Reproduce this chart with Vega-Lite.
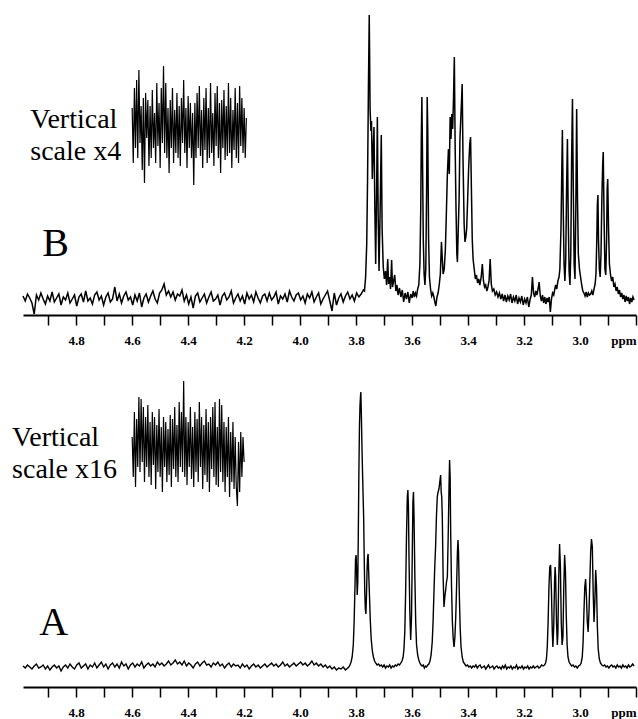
{
"$schema": "https://vega.github.io/schema/vega-lite/v6.json",
"padding": {"left": 12, "top": 0, "right": 1, "bottom": 0},
"background": "white",
"spacing": 22,
"config": {"view": {"stroke": null}},
"datasets": {
"bs": [{"p":4.990,"v":3},{"p":4.982,"v":-2},{"p":4.974,"v":5},{"p":4.966,"v":1},{"p":4.958,"v":-4},{"p":4.950,"v":-15},{"p":4.942,"v":4},{"p":4.934,"v":-1},{"p":4.926,"v":6},{"p":4.918,"v":0},{"p":4.910,"v":-5},{"p":4.902,"v":3},{"p":4.894,"v":-2},{"p":4.886,"v":7},{"p":4.878,"v":-3},{"p":4.870,"v":1},{"p":4.862,"v":5},{"p":4.854,"v":-6},{"p":4.846,"v":2},{"p":4.838,"v":-1},{"p":4.830,"v":6},{"p":4.822,"v":-4},{"p":4.814,"v":0},{"p":4.806,"v":4},{"p":4.798,"v":-7},{"p":4.790,"v":2},{"p":4.782,"v":5},{"p":4.774,"v":-3},{"p":4.766,"v":8},{"p":4.758,"v":-2},{"p":4.750,"v":1},{"p":4.742,"v":-5},{"p":4.734,"v":4},{"p":4.726,"v":7},{"p":4.718,"v":-1},{"p":4.710,"v":3},{"p":4.702,"v":-6},{"p":4.694,"v":2},{"p":4.686,"v":6},{"p":4.678,"v":-3},{"p":4.670,"v":0},{"p":4.662,"v":12},{"p":4.654,"v":-2},{"p":4.646,"v":5},{"p":4.638,"v":-4},{"p":4.630,"v":3},{"p":4.622,"v":7},{"p":4.614,"v":-1},{"p":4.606,"v":2},{"p":4.598,"v":-6},{"p":4.590,"v":4},{"p":4.582,"v":-2},{"p":4.574,"v":6},{"p":4.566,"v":-8},{"p":4.558,"v":1},{"p":4.550,"v":5},{"p":4.542,"v":-3},{"p":4.534,"v":3},{"p":4.526,"v":8},{"p":4.518,"v":0},{"p":4.510,"v":-4},{"p":4.502,"v":6},{"p":4.494,"v":9},{"p":4.486,"v":15},{"p":4.478,"v":4},{"p":4.470,"v":8},{"p":4.462,"v":2},{"p":4.454,"v":7},{"p":4.446,"v":-1},{"p":4.438,"v":5},{"p":4.430,"v":3},{"p":4.422,"v":9},{"p":4.414,"v":-2},{"p":4.406,"v":4},{"p":4.398,"v":-5},{"p":4.390,"v":2},{"p":4.382,"v":-9},{"p":4.374,"v":3},{"p":4.366,"v":6},{"p":4.358,"v":-3},{"p":4.350,"v":1},{"p":4.342,"v":5},{"p":4.334,"v":-4},{"p":4.326,"v":2},{"p":4.318,"v":7},{"p":4.310,"v":-2},{"p":4.302,"v":0},{"p":4.294,"v":4},{"p":4.286,"v":-6},{"p":4.278,"v":3},{"p":4.270,"v":6},{"p":4.262,"v":-1},{"p":4.254,"v":2},{"p":4.246,"v":8},{"p":4.238,"v":-4},{"p":4.230,"v":1},{"p":4.222,"v":5},{"p":4.214,"v":-2},{"p":4.206,"v":3},{"p":4.198,"v":-5},{"p":4.190,"v":6},{"p":4.182,"v":0},{"p":4.174,"v":4},{"p":4.166,"v":-3},{"p":4.158,"v":7},{"p":4.150,"v":1},{"p":4.142,"v":-4},{"p":4.134,"v":3},{"p":4.126,"v":5},{"p":4.118,"v":-2},{"p":4.110,"v":6},{"p":4.102,"v":-1},{"p":4.094,"v":2},{"p":4.086,"v":7},{"p":4.078,"v":-5},{"p":4.070,"v":3},{"p":4.062,"v":0},{"p":4.054,"v":5},{"p":4.046,"v":-3},{"p":4.038,"v":8},{"p":4.030,"v":2},{"p":4.022,"v":-2},{"p":4.014,"v":4},{"p":4.006,"v":6},{"p":3.998,"v":-1},{"p":3.990,"v":3},{"p":3.982,"v":-4},{"p":3.974,"v":5},{"p":3.966,"v":1},{"p":3.958,"v":7},{"p":3.950,"v":-3},{"p":3.942,"v":2},{"p":3.934,"v":6},{"p":3.926,"v":-5},{"p":3.918,"v":0},{"p":3.910,"v":4},{"p":3.902,"v":8},{"p":3.894,"v":-2},{"p":3.886,"v":-12},{"p":3.878,"v":6},{"p":3.870,"v":-6},{"p":3.862,"v":1},{"p":3.854,"v":5},{"p":3.846,"v":-3},{"p":3.838,"v":3},{"p":3.830,"v":7},{"p":3.822,"v":0},{"p":3.814,"v":4},{"p":3.806,"v":-2},{"p":3.798,"v":6},{"p":3.790,"v":2},{"p":3.782,"v":5},{"p":3.774,"v":9},
{"p":3.770,"v":8},{"p":3.766,"v":22},{"p":3.762,"v":55},{"p":3.759,"v":120},{"p":3.756,"v":210},{"p":3.753,"v":284},{"p":3.750,"v":190},{"p":3.747,"v":168},{"p":3.745,"v":178},{"p":3.742,"v":120},{"p":3.739,"v":150},{"p":3.736,"v":172},{"p":3.733,"v":90},{"p":3.730,"v":35},{"p":3.727,"v":100},{"p":3.724,"v":182},{"p":3.721,"v":80},{"p":3.718,"v":28},{"p":3.714,"v":90},{"p":3.710,"v":164},{"p":3.707,"v":70},{"p":3.703,"v":32},{"p":3.699,"v":20},{"p":3.695,"v":28},{"p":3.691,"v":14},{"p":3.687,"v":40},{"p":3.684,"v":15},{"p":3.680,"v":22},{"p":3.677,"v":10},{"p":3.673,"v":39},{"p":3.670,"v":12},{"p":3.666,"v":18},{"p":3.662,"v":24},{"p":3.658,"v":8},{"p":3.654,"v":14},{"p":3.650,"v":4},{"p":3.645,"v":11},{"p":3.640,"v":2},{"p":3.635,"v":9},{"p":3.630,"v":-3},{"p":3.625,"v":6},{"p":3.620,"v":0},{"p":3.615,"v":7},{"p":3.610,"v":-4},{"p":3.605,"v":5},{"p":3.600,"v":1},{"p":3.596,"v":8},{"p":3.592,"v":2},{"p":3.588,"v":6},{"p":3.584,"v":3},{"p":3.580,"v":10},{"p":3.576,"v":14},{"p":3.572,"v":35},{"p":3.569,"v":90},{"p":3.567,"v":160},{"p":3.565,"v":202},{"p":3.563,"v":150},{"p":3.560,"v":60},{"p":3.557,"v":25},{"p":3.554,"v":14},{"p":3.551,"v":30},{"p":3.548,"v":110},{"p":3.546,"v":202},{"p":3.544,"v":170},{"p":3.541,"v":60},{"p":3.538,"v":22},{"p":3.534,"v":10},{"p":3.530,"v":3},{"p":3.526,"v":6},{"p":3.522,"v":2},{"p":3.518,"v":-4},{"p":3.515,"v":-7},{"p":3.511,"v":2},{"p":3.507,"v":6},{"p":3.503,"v":14},{"p":3.499,"v":25},{"p":3.495,"v":57},{"p":3.492,"v":40},{"p":3.489,"v":25},{"p":3.485,"v":30},{"p":3.481,"v":50},{"p":3.478,"v":80},{"p":3.474,"v":124},{"p":3.470,"v":150},{"p":3.467,"v":125},{"p":3.464,"v":182},{"p":3.461,"v":160},{"p":3.458,"v":185},{"p":3.455,"v":170},{"p":3.452,"v":200},{"p":3.449,"v":242},{"p":3.446,"v":150},{"p":3.443,"v":90},{"p":3.440,"v":45},{"p":3.438,"v":37},{"p":3.435,"v":70},{"p":3.432,"v":100},{"p":3.429,"v":160},{"p":3.426,"v":180},{"p":3.423,"v":200},{"p":3.421,"v":215},{"p":3.418,"v":140},{"p":3.414,"v":75},{"p":3.411,"v":57},{"p":3.408,"v":62},{"p":3.405,"v":70},{"p":3.402,"v":95},{"p":3.398,"v":130},{"p":3.394,"v":155},{"p":3.391,"v":162},{"p":3.388,"v":110},{"p":3.385,"v":60},{"p":3.382,"v":40},{"p":3.378,"v":30},{"p":3.374,"v":20},{"p":3.370,"v":24},{"p":3.366,"v":16},{"p":3.362,"v":20},{"p":3.358,"v":14},{"p":3.353,"v":22},{"p":3.349,"v":35},{"p":3.345,"v":18},{"p":3.341,"v":12},{"p":3.337,"v":14},{"p":3.333,"v":8},{"p":3.329,"v":12},{"p":3.325,"v":18},{"p":3.321,"v":40},{"p":3.317,"v":15},{"p":3.313,"v":8},{"p":3.308,"v":10},{"p":3.303,"v":4},{"p":3.298,"v":7},{"p":3.293,"v":2},{"p":3.288,"v":6},{"p":3.283,"v":0},{"p":3.278,"v":5},{"p":3.273,"v":-2},{"p":3.268,"v":4},{"p":3.263,"v":-3},{"p":3.258,"v":3},{"p":3.253,"v":-1},{"p":3.248,"v":5},{"p":3.243,"v":-4},{"p":3.238,"v":2},{"p":3.233,"v":-2},{"p":3.228,"v":4},{"p":3.223,"v":-5},{"p":3.218,"v":1},{"p":3.213,"v":-3},{"p":3.208,"v":3},{"p":3.203,"v":-6},{"p":3.198,"v":0},{"p":3.193,"v":-4},{"p":3.188,"v":2},{"p":3.183,"v":-8},{"p":3.178,"v":0},{"p":3.174,"v":4},{"p":3.170,"v":22},{"p":3.166,"v":6},{"p":3.162,"v":2},{"p":3.158,"v":8},{"p":3.154,"v":4},{"p":3.150,"v":10},{"p":3.146,"v":17},{"p":3.142,"v":3},{"p":3.138,"v":-2},{"p":3.134,"v":4},{"p":3.130,"v":-4},{"p":3.126,"v":2},{"p":3.122,"v":-5},{"p":3.118,"v":1},{"p":3.114,"v":-3},{"p":3.110,"v":2},{"p":3.106,"v":-13},{"p":3.102,"v":0},{"p":3.098,"v":6},{"p":3.094,"v":4},{"p":3.090,"v":10},{"p":3.087,"v":14},{"p":3.083,"v":10},{"p":3.079,"v":18},{"p":3.075,"v":22},{"p":3.072,"v":30},{"p":3.068,"v":70},{"p":3.065,"v":130},{"p":3.063,"v":169},{"p":3.060,"v":90},{"p":3.057,"v":35},{"p":3.054,"v":18},{"p":3.051,"v":40},{"p":3.048,"v":110},{"p":3.045,"v":160},{"p":3.042,"v":80},{"p":3.039,"v":28},{"p":3.036,"v":14},{"p":3.033,"v":45},{"p":3.030,"v":140},{"p":3.027,"v":200},{"p":3.024,"v":110},{"p":3.021,"v":35},{"p":3.018,"v":20},{"p":3.015,"v":90},{"p":3.012,"v":190},{"p":3.009,"v":100},{"p":3.006,"v":45},{"p":3.002,"v":30},{"p":2.998,"v":22},{"p":2.994,"v":14},{"p":2.990,"v":8},{"p":2.986,"v":6},{"p":2.982,"v":3},{"p":2.978,"v":7},{"p":2.974,"v":2},{"p":2.970,"v":6},{"p":2.966,"v":4},{"p":2.962,"v":5},{"p":2.958,"v":8},{"p":2.954,"v":4},{"p":2.950,"v":10},{"p":2.946,"v":15},{"p":2.943,"v":25},{"p":2.940,"v":60},{"p":2.938,"v":95},{"p":2.936,"v":104},{"p":2.934,"v":60},{"p":2.931,"v":30},{"p":2.928,"v":22},{"p":2.925,"v":45},{"p":2.922,"v":100},{"p":2.919,"v":135},{"p":2.917,"v":147},{"p":2.914,"v":80},{"p":2.911,"v":30},{"p":2.908,"v":24},{"p":2.905,"v":60},{"p":2.903,"v":110},{"p":2.901,"v":120},{"p":2.898,"v":70},{"p":2.895,"v":35},{"p":2.891,"v":24},{"p":2.887,"v":18},{"p":2.883,"v":22},{"p":2.879,"v":12},{"p":2.875,"v":15},{"p":2.871,"v":8},{"p":2.867,"v":12},{"p":2.863,"v":5},{"p":2.859,"v":9},{"p":2.855,"v":2},{"p":2.851,"v":6},{"p":2.847,"v":0},{"p":2.843,"v":4},{"p":2.839,"v":-3},{"p":2.835,"v":3},{"p":2.831,"v":-2},{"p":2.827,"v":2},{"p":2.823,"v":-5},{"p":2.819,"v":1},{"p":2.815,"v":-3},{"p":2.811,"v":2},{"p":2.807,"v":-1}],
"bi": [{"p":4.600,"v":191},{"p":4.596,"v":136},{"p":4.592,"v":211},{"p":4.588,"v":151},{"p":4.584,"v":219},{"p":4.580,"v":141},{"p":4.576,"v":229},{"p":4.572,"v":156},{"p":4.568,"v":193},{"p":4.564,"v":129},{"p":4.560,"v":201},{"p":4.556,"v":116},{"p":4.552,"v":206},{"p":4.548,"v":161},{"p":4.544,"v":199},{"p":4.540,"v":133},{"p":4.536,"v":193},{"p":4.532,"v":141},{"p":4.528,"v":209},{"p":4.524,"v":151},{"p":4.520,"v":186},{"p":4.516,"v":136},{"p":4.512,"v":216},{"p":4.508,"v":153},{"p":4.504,"v":196},{"p":4.500,"v":131},{"p":4.496,"v":211},{"p":4.492,"v":156},{"p":4.488,"v":233},{"p":4.484,"v":146},{"p":4.480,"v":216},{"p":4.476,"v":141},{"p":4.472,"v":191},{"p":4.468,"v":126},{"p":4.464,"v":199},{"p":4.460,"v":151},{"p":4.456,"v":211},{"p":4.452,"v":136},{"p":4.448,"v":189},{"p":4.444,"v":146},{"p":4.440,"v":206},{"p":4.436,"v":141},{"p":4.432,"v":193},{"p":4.428,"v":133},{"p":4.424,"v":201},{"p":4.420,"v":156},{"p":4.416,"v":219},{"p":4.412,"v":146},{"p":4.408,"v":191},{"p":4.404,"v":131},{"p":4.400,"v":203},{"p":4.396,"v":151},{"p":4.392,"v":196},{"p":4.388,"v":141},{"p":4.384,"v":186},{"p":4.380,"v":114},{"p":4.376,"v":196},{"p":4.372,"v":141},{"p":4.368,"v":206},{"p":4.364,"v":151},{"p":4.360,"v":213},{"p":4.356,"v":143},{"p":4.352,"v":189},{"p":4.348,"v":131},{"p":4.344,"v":201},{"p":4.340,"v":149},{"p":4.336,"v":211},{"p":4.332,"v":136},{"p":4.328,"v":191},{"p":4.324,"v":141},{"p":4.320,"v":216},{"p":4.316,"v":146},{"p":4.312,"v":186},{"p":4.308,"v":133},{"p":4.304,"v":206},{"p":4.300,"v":153},{"p":4.296,"v":213},{"p":4.292,"v":141},{"p":4.288,"v":196},{"p":4.284,"v":126},{"p":4.280,"v":199},{"p":4.276,"v":151},{"p":4.272,"v":209},{"p":4.268,"v":139},{"p":4.264,"v":193},{"p":4.260,"v":143},{"p":4.256,"v":216},{"p":4.252,"v":146},{"p":4.248,"v":201},{"p":4.244,"v":131},{"p":4.240,"v":189},{"p":4.236,"v":149},{"p":4.232,"v":211},{"p":4.228,"v":141},{"p":4.224,"v":196},{"p":4.220,"v":136},{"p":4.216,"v":213},{"p":4.212,"v":153},{"p":4.208,"v":201},{"p":4.204,"v":146},{"p":4.200,"v":191},{"p":4.196,"v":141},{"p":4.192,"v":181}],
"as": [{"p":4.990,"v":1},{"p":4.982,"v":-1},{"p":4.974,"v":2},{"p":4.966,"v":0},{"p":4.958,"v":-2},{"p":4.950,"v":1},{"p":4.942,"v":3},{"p":4.934,"v":-1},{"p":4.926,"v":0},{"p":4.918,"v":2},{"p":4.910,"v":-2},{"p":4.902,"v":1},{"p":4.894,"v":-3},{"p":4.886,"v":0},{"p":4.878,"v":2},{"p":4.870,"v":-1},{"p":4.862,"v":1},{"p":4.854,"v":-4},{"p":4.846,"v":0},{"p":4.838,"v":2},{"p":4.830,"v":-1},{"p":4.822,"v":3},{"p":4.814,"v":0},{"p":4.806,"v":-2},{"p":4.798,"v":2},{"p":4.790,"v":4},{"p":4.782,"v":-1},{"p":4.774,"v":1},{"p":4.766,"v":3},{"p":4.758,"v":-2},{"p":4.750,"v":2},{"p":4.742,"v":0},{"p":4.734,"v":4},{"p":4.726,"v":-1},{"p":4.718,"v":2},{"p":4.710,"v":5},{"p":4.702,"v":0},{"p":4.694,"v":3},{"p":4.686,"v":-2},{"p":4.678,"v":2},{"p":4.670,"v":4},{"p":4.662,"v":0},{"p":4.654,"v":3},{"p":4.646,"v":-1},{"p":4.638,"v":5},{"p":4.630,"v":1},{"p":4.622,"v":3},{"p":4.614,"v":-2},{"p":4.606,"v":2},{"p":4.598,"v":4},{"p":4.590,"v":0},{"p":4.582,"v":3},{"p":4.574,"v":1},{"p":4.566,"v":5},{"p":4.558,"v":-1},{"p":4.550,"v":2},{"p":4.542,"v":4},{"p":4.534,"v":1},{"p":4.526,"v":3},{"p":4.518,"v":0},{"p":4.510,"v":5},{"p":4.502,"v":2},{"p":4.494,"v":4},{"p":4.486,"v":1},{"p":4.478,"v":3},{"p":4.470,"v":6},{"p":4.462,"v":2},{"p":4.454,"v":4},{"p":4.446,"v":7},{"p":4.438,"v":3},{"p":4.430,"v":5},{"p":4.422,"v":2},{"p":4.414,"v":6},{"p":4.406,"v":1},{"p":4.398,"v":4},{"p":4.390,"v":2},{"p":4.382,"v":-1},{"p":4.374,"v":3},{"p":4.366,"v":5},{"p":4.358,"v":1},{"p":4.350,"v":4},{"p":4.342,"v":6},{"p":4.334,"v":2},{"p":4.326,"v":3},{"p":4.318,"v":0},{"p":4.310,"v":4},{"p":4.302,"v":2},{"p":4.294,"v":5},{"p":4.286,"v":1},{"p":4.278,"v":3},{"p":4.270,"v":-1},{"p":4.262,"v":2},{"p":4.254,"v":4},{"p":4.246,"v":0},{"p":4.238,"v":3},{"p":4.230,"v":1},{"p":4.222,"v":2},{"p":4.214,"v":-1},{"p":4.206,"v":3},{"p":4.198,"v":0},{"p":4.190,"v":2},{"p":4.182,"v":-2},{"p":4.174,"v":1},{"p":4.166,"v":3},{"p":4.158,"v":0},{"p":4.150,"v":2},{"p":4.142,"v":-1},{"p":4.134,"v":1},{"p":4.126,"v":3},{"p":4.118,"v":0},{"p":4.110,"v":2},{"p":4.102,"v":4},{"p":4.094,"v":1},{"p":4.086,"v":3},{"p":4.078,"v":0},{"p":4.070,"v":2},{"p":4.062,"v":5},{"p":4.054,"v":1},{"p":4.046,"v":3},{"p":4.038,"v":0},{"p":4.030,"v":2},{"p":4.022,"v":4},{"p":4.014,"v":1},{"p":4.006,"v":3},{"p":3.998,"v":5},{"p":3.990,"v":2},{"p":3.982,"v":4},{"p":3.974,"v":1},{"p":3.966,"v":3},{"p":3.958,"v":6},{"p":3.950,"v":2},{"p":3.942,"v":4},{"p":3.934,"v":1},{"p":3.926,"v":3},{"p":3.918,"v":0},{"p":3.910,"v":2},{"p":3.902,"v":-1},{"p":3.894,"v":1},{"p":3.886,"v":-2},{"p":3.878,"v":0},{"p":3.870,"v":-3},{"p":3.862,"v":-1},{"p":3.854,"v":-2},{"p":3.846,"v":0},{"p":3.838,"v":-3},{"p":3.830,"v":-1},
{"p":3.826,"v":0},{"p":3.822,"v":2},{"p":3.818,"v":5},{"p":3.814,"v":10},{"p":3.810,"v":22},{"p":3.807,"v":45},{"p":3.804,"v":80},{"p":3.802,"v":108},{"p":3.800,"v":112},{"p":3.798,"v":95},{"p":3.796,"v":72},{"p":3.794,"v":85},{"p":3.792,"v":135},{"p":3.790,"v":195},{"p":3.788,"v":240},{"p":3.786,"v":262},{"p":3.784,"v":272},{"p":3.783,"v":275},{"p":3.781,"v":250},{"p":3.779,"v":220},{"p":3.777,"v":195},{"p":3.775,"v":172},{"p":3.773,"v":150},{"p":3.771,"v":110},{"p":3.769,"v":75},{"p":3.767,"v":58},{"p":3.765,"v":53},{"p":3.763,"v":70},{"p":3.761,"v":95},{"p":3.759,"v":110},{"p":3.757,"v":113},{"p":3.755,"v":95},{"p":3.752,"v":70},{"p":3.749,"v":45},{"p":3.746,"v":28},{"p":3.742,"v":16},{"p":3.738,"v":10},{"p":3.734,"v":6},{"p":3.730,"v":4},{"p":3.725,"v":2},{"p":3.720,"v":3},{"p":3.715,"v":1},{"p":3.710,"v":2},{"p":3.705,"v":0},{"p":3.700,"v":2},{"p":3.695,"v":-1},{"p":3.690,"v":1},{"p":3.685,"v":0},{"p":3.680,"v":2},{"p":3.675,"v":-1},{"p":3.670,"v":1},{"p":3.665,"v":0},{"p":3.660,"v":2},{"p":3.655,"v":1},{"p":3.650,"v":3},{"p":3.645,"v":2},{"p":3.640,"v":4},{"p":3.636,"v":6},{"p":3.632,"v":10},{"p":3.629,"v":18},{"p":3.626,"v":35},{"p":3.623,"v":75},{"p":3.620,"v":130},{"p":3.617,"v":170},{"p":3.615,"v":177},{"p":3.613,"v":160},{"p":3.611,"v":110},{"p":3.608,"v":55},{"p":3.605,"v":27},{"p":3.602,"v":50},{"p":3.599,"v":120},{"p":3.597,"v":165},{"p":3.595,"v":175},{"p":3.593,"v":150},{"p":3.590,"v":90},{"p":3.587,"v":45},{"p":3.584,"v":22},{"p":3.580,"v":12},{"p":3.576,"v":7},{"p":3.572,"v":4},{"p":3.568,"v":2},{"p":3.564,"v":1},{"p":3.560,"v":2},{"p":3.556,"v":-1},{"p":3.552,"v":1},{"p":3.548,"v":0},{"p":3.544,"v":2},{"p":3.540,"v":3},{"p":3.536,"v":6},{"p":3.532,"v":12},{"p":3.528,"v":25},{"p":3.525,"v":45},{"p":3.522,"v":73},{"p":3.519,"v":100},{"p":3.516,"v":120},{"p":3.513,"v":150},{"p":3.510,"v":170},{"p":3.507,"v":175},{"p":3.504,"v":178},{"p":3.501,"v":185},{"p":3.498,"v":192},{"p":3.496,"v":175},{"p":3.494,"v":170},{"p":3.492,"v":150},{"p":3.489,"v":90},{"p":3.486,"v":60},{"p":3.483,"v":70},{"p":3.480,"v":77},{"p":3.477,"v":85},{"p":3.474,"v":90},{"p":3.471,"v":130},{"p":3.468,"v":180},{"p":3.466,"v":207},{"p":3.464,"v":190},{"p":3.462,"v":133},{"p":3.459,"v":80},{"p":3.456,"v":45},{"p":3.453,"v":28},{"p":3.450,"v":20},{"p":3.447,"v":30},{"p":3.444,"v":50},{"p":3.441,"v":80},{"p":3.438,"v":115},{"p":3.436,"v":127},{"p":3.434,"v":115},{"p":3.431,"v":70},{"p":3.428,"v":38},{"p":3.425,"v":20},{"p":3.421,"v":10},{"p":3.417,"v":5},{"p":3.412,"v":3},{"p":3.407,"v":1},{"p":3.402,"v":2},{"p":3.397,"v":0},{"p":3.392,"v":1},{"p":3.387,"v":-1},{"p":3.382,"v":1},{"p":3.377,"v":0},{"p":3.372,"v":2},{"p":3.367,"v":-1},{"p":3.362,"v":1},{"p":3.357,"v":2},{"p":3.352,"v":-1},{"p":3.347,"v":0},{"p":3.342,"v":1},{"p":3.337,"v":-2},{"p":3.332,"v":0},{"p":3.327,"v":2},{"p":3.322,"v":-1},{"p":3.317,"v":0},{"p":3.312,"v":1},{"p":3.307,"v":-2},{"p":3.302,"v":0},{"p":3.297,"v":1},{"p":3.292,"v":-1},{"p":3.287,"v":0},{"p":3.282,"v":-2},{"p":3.277,"v":1},{"p":3.272,"v":-1},{"p":3.267,"v":2},{"p":3.262,"v":-2},{"p":3.257,"v":0},{"p":3.252,"v":-1},{"p":3.247,"v":1},{"p":3.242,"v":-2},{"p":3.237,"v":0},{"p":3.232,"v":-1},{"p":3.227,"v":2},{"p":3.222,"v":-2},{"p":3.217,"v":0},{"p":3.212,"v":-1},{"p":3.207,"v":1},{"p":3.202,"v":-2},{"p":3.197,"v":0},{"p":3.192,"v":-1},{"p":3.187,"v":1},{"p":3.182,"v":-2},{"p":3.177,"v":0},{"p":3.172,"v":-1},{"p":3.167,"v":1},{"p":3.162,"v":-1},{"p":3.157,"v":0},{"p":3.152,"v":1},{"p":3.147,"v":-1},{"p":3.142,"v":0},{"p":3.137,"v":2},{"p":3.132,"v":1},{"p":3.127,"v":2},{"p":3.123,"v":4},{"p":3.120,"v":8},{"p":3.117,"v":20},{"p":3.114,"v":45},{"p":3.111,"v":80},{"p":3.108,"v":100},{"p":3.105,"v":102},{"p":3.102,"v":75},{"p":3.099,"v":35},{"p":3.097,"v":20},{"p":3.094,"v":40},{"p":3.091,"v":85},{"p":3.089,"v":100},{"p":3.087,"v":90},{"p":3.084,"v":45},{"p":3.081,"v":22},{"p":3.079,"v":35},{"p":3.076,"v":90},{"p":3.073,"v":123},{"p":3.070,"v":100},{"p":3.067,"v":45},{"p":3.064,"v":22},{"p":3.061,"v":30},{"p":3.058,"v":80},{"p":3.055,"v":112},{"p":3.052,"v":95},{"p":3.049,"v":50},{"p":3.046,"v":22},{"p":3.043,"v":10},{"p":3.039,"v":5},{"p":3.035,"v":3},{"p":3.030,"v":1},{"p":3.025,"v":2},{"p":3.020,"v":0},{"p":3.015,"v":1},{"p":3.010,"v":-1},{"p":3.005,"v":1},{"p":3.000,"v":2},{"p":2.996,"v":4},{"p":2.992,"v":10},{"p":2.989,"v":25},{"p":2.986,"v":55},{"p":2.983,"v":80},{"p":2.980,"v":88},{"p":2.977,"v":70},{"p":2.974,"v":45},{"p":2.971,"v":35},{"p":2.968,"v":55},{"p":2.965,"v":85},{"p":2.962,"v":115},{"p":2.959,"v":128},{"p":2.956,"v":120},{"p":2.953,"v":75},{"p":2.950,"v":45},{"p":2.947,"v":65},{"p":2.944,"v":97},{"p":2.941,"v":80},{"p":2.938,"v":40},{"p":2.935,"v":18},{"p":2.931,"v":8},{"p":2.927,"v":4},{"p":2.922,"v":2},{"p":2.917,"v":1},{"p":2.912,"v":2},{"p":2.907,"v":0},{"p":2.902,"v":1},{"p":2.897,"v":-1},{"p":2.892,"v":1},{"p":2.887,"v":2},{"p":2.882,"v":0},{"p":2.877,"v":1},{"p":2.872,"v":-1},{"p":2.867,"v":2},{"p":2.862,"v":0},{"p":2.857,"v":1},{"p":2.852,"v":-1},{"p":2.847,"v":2},{"p":2.842,"v":0},{"p":2.837,"v":1},{"p":2.832,"v":-1},{"p":2.827,"v":2},{"p":2.822,"v":0},{"p":2.817,"v":1},{"p":2.812,"v":3},{"p":2.807,"v":1}],
"ai": [{"p":4.600,"v":230},{"p":4.596,"v":190},{"p":4.592,"v":255},{"p":4.588,"v":180},{"p":4.584,"v":248},{"p":4.580,"v":200},{"p":4.576,"v":270},{"p":4.572,"v":195},{"p":4.568,"v":268},{"p":4.564,"v":205},{"p":4.560,"v":260},{"p":4.556,"v":185},{"p":4.552,"v":250},{"p":4.548,"v":200},{"p":4.544,"v":262},{"p":4.540,"v":190},{"p":4.536,"v":245},{"p":4.532,"v":182},{"p":4.528,"v":255},{"p":4.524,"v":202},{"p":4.520,"v":250},{"p":4.516,"v":178},{"p":4.512,"v":242},{"p":4.508,"v":195},{"p":4.504,"v":258},{"p":4.500,"v":190},{"p":4.496,"v":240},{"p":4.492,"v":175},{"p":4.488,"v":250},{"p":4.484,"v":200},{"p":4.480,"v":245},{"p":4.476,"v":185},{"p":4.472,"v":238},{"p":4.468,"v":192},{"p":4.464,"v":252},{"p":4.460,"v":180},{"p":4.456,"v":248},{"p":4.452,"v":198},{"p":4.448,"v":260},{"p":4.444,"v":190},{"p":4.440,"v":242},{"p":4.436,"v":185},{"p":4.432,"v":265},{"p":4.428,"v":200},{"p":4.424,"v":255},{"p":4.420,"v":195},{"p":4.416,"v":286},{"p":4.412,"v":190},{"p":4.408,"v":250},{"p":4.404,"v":182},{"p":4.400,"v":245},{"p":4.396,"v":200},{"p":4.392,"v":260},{"p":4.388,"v":188},{"p":4.384,"v":240},{"p":4.380,"v":180},{"p":4.376,"v":255},{"p":4.372,"v":195},{"p":4.368,"v":248},{"p":4.364,"v":185},{"p":4.360,"v":265},{"p":4.356,"v":200},{"p":4.352,"v":250},{"p":4.348,"v":178},{"p":4.344,"v":242},{"p":4.340,"v":192},{"p":4.336,"v":258},{"p":4.332,"v":185},{"p":4.328,"v":245},{"p":4.324,"v":175},{"p":4.320,"v":250},{"p":4.316,"v":198},{"p":4.312,"v":260},{"p":4.308,"v":190},{"p":4.304,"v":265},{"p":4.300,"v":182},{"p":4.296,"v":240},{"p":4.292,"v":180},{"p":4.288,"v":268},{"p":4.284,"v":195},{"p":4.280,"v":262},{"p":4.276,"v":185},{"p":4.272,"v":245},{"p":4.268,"v":175},{"p":4.264,"v":240},{"p":4.260,"v":190},{"p":4.256,"v":250},{"p":4.252,"v":170},{"p":4.248,"v":235},{"p":4.244,"v":185},{"p":4.240,"v":245},{"p":4.236,"v":178},{"p":4.232,"v":230},{"p":4.228,"v":180},{"p":4.224,"v":161},{"p":4.220,"v":225},{"p":4.216,"v":175},{"p":4.212,"v":235},{"p":4.208,"v":190},{"p":4.204,"v":230},{"p":4.200,"v":205}]
},
"vconcat": [
{
"width": 613, "height": 315,
"resolve": {"axis": {"x": "independent", "y": "independent"}},
"layer": [
{"data": {"name": "bs"}, "mark": {"type": "line", "color": "black", "strokeWidth": 1.5},
 "encoding": {
  "x": {"field": "p", "type": "quantitative", "scale": {"domain": [4.99, 2.8], "nice": false, "zero": false},
   "axis": {"orient": "bottom", "values": [4.9,4.8,4.7,4.6,4.5,4.4,4.3,4.2,4.1,4.0,3.9,3.8,3.7,3.6,3.5,3.4,3.3,3.2,3.1,3.0,2.9,2.845,2.8],
    "labelExpr": "datum.value == 2.845 ? 'ppm' : ((datum.value > 2.85 && round(datum.value*10) % 2 == 0) ? format(datum.value, '.1f') : '')",
    "tickOpacity": {"condition": {"test": "datum.value == 2.845", "value": 0}, "value": 1},
    "title": null, "grid": false, "domainColor": "black", "domainWidth": 2, "tickColor": "black", "tickWidth": 1.5, "tickSize": 10,
    "labelPadding": 9, "labelFont": "Liberation Serif", "labelFontWeight": "bold", "labelFontSize": 13, "labelColor": "black", "labelOverlap": false, "labelFlush": false}},
  "y": {"field": "v", "type": "quantitative", "scale": {"domain": [-16, 299], "nice": false, "zero": false}, "axis": null}}},
{"data": {"name": "bi"}, "mark": {"type": "line", "color": "black", "strokeWidth": 1.2},
 "encoding": {
  "x": {"field": "p", "type": "quantitative", "axis": null},
  "y": {"field": "v", "type": "quantitative", "axis": null}}},
{"data": {"values": [{}]}, "mark": {"type": "text", "text": ["Vertical", "scale x4"], "align": "left", "baseline": "alphabetic", "font": "Liberation Serif", "fontSize": 28, "lineHeight": 32, "color": "black"},
 "encoding": {
  "x": {"datum": 4.964, "type": "quantitative", "axis": null},
  "y": {"datum": 171, "type": "quantitative", "axis": null}}},
{"data": {"values": [{}]}, "mark": {"type": "text", "text": "B", "align": "left", "baseline": "alphabetic", "font": "Liberation Serif", "fontSize": 40, "color": "black"},
 "encoding": {
  "x": {"datum": 4.921, "type": "quantitative", "axis": null},
  "y": {"datum": 43, "type": "quantitative", "axis": null}}}
]
},
{
"width": 613, "height": 318,
"resolve": {"axis": {"x": "independent", "y": "independent"}},
"layer": [
{"data": {"name": "as"}, "mark": {"type": "line", "color": "black", "strokeWidth": 1.4},
 "encoding": {
  "x": {"field": "p", "type": "quantitative", "scale": {"domain": [4.99, 2.8], "nice": false, "zero": false},
   "axis": {"orient": "bottom", "values": [4.9,4.8,4.7,4.6,4.5,4.4,4.3,4.2,4.1,4.0,3.9,3.8,3.7,3.6,3.5,3.4,3.3,3.2,3.1,3.0,2.9,2.845,2.8],
    "labelExpr": "datum.value == 2.845 ? 'ppm' : ((datum.value > 2.85 && round(datum.value*10) % 2 == 0) ? format(datum.value, '.1f') : '')",
    "tickOpacity": {"condition": {"test": "datum.value == 2.845", "value": 0}, "value": 1},
    "title": null, "grid": false, "domainColor": "black", "domainWidth": 2, "tickColor": "black", "tickWidth": 1.5, "tickSize": 10,
    "labelPadding": 9, "labelFont": "Liberation Serif", "labelFontWeight": "bold", "labelFontSize": 13, "labelColor": "black", "labelOverlap": false, "labelFlush": false}},
  "y": {"field": "v", "type": "quantitative", "scale": {"domain": [-20, 298], "nice": false, "zero": false}, "axis": null}}},
{"data": {"name": "ai"}, "mark": {"type": "line", "color": "black", "strokeWidth": 1.2},
 "encoding": {
  "x": {"field": "p", "type": "quantitative", "axis": null},
  "y": {"field": "v", "type": "quantitative", "axis": null}}},
{"data": {"values": [{}]}, "mark": {"type": "text", "text": ["Vertical", "scale x16"], "align": "left", "baseline": "alphabetic", "font": "Liberation Serif", "fontSize": 28, "lineHeight": 32, "color": "black"},
 "encoding": {
  "x": {"datum": 5.029, "type": "quantitative", "axis": null},
  "y": {"datum": 221, "type": "quantitative", "axis": null}}},
{"data": {"values": [{}]}, "mark": {"type": "text", "text": "A", "align": "left", "baseline": "alphabetic", "font": "Liberation Serif", "fontSize": 40, "color": "black"},
 "encoding": {
  "x": {"datum": 4.932, "type": "quantitative", "axis": null},
  "y": {"datum": 32, "type": "quantitative", "axis": null}}}
]
}
]
}
